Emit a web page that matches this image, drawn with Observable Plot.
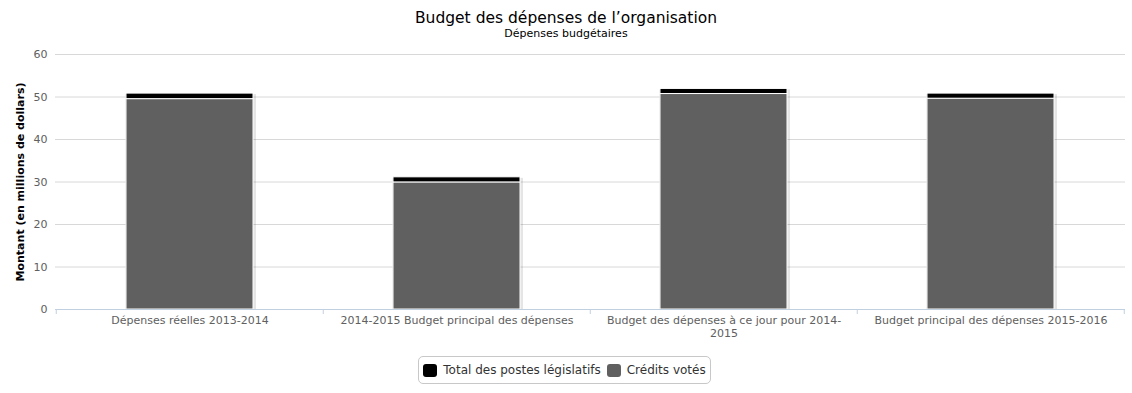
<!DOCTYPE html>
<html>
<head>
<meta charset="utf-8">
<script src="https://cdn.jsdelivr.net/npm/d3@7"></script>
<script src="https://cdn.jsdelivr.net/npm/@observablehq/plot@0.6"></script>
<style>
  html, body { margin: 0; padding: 0; background: #fff; }
  body { font-family: "DejaVu Sans", Verdana, sans-serif; }
  #wrap { position: relative; width: 1132px; height: 393px; overflow: hidden; }
  #head { position: relative; height: 44px; }
  #title { position: absolute; left: 0; width: 1132px; top: 8px; text-align: center; font-size: 15.5px; line-height: 20px; color: #000; }
  #subtitle { position: absolute; left: 0; width: 1132px; top: 27px; text-align: center; font-size: 11px; line-height: 14px; color: #000; }
  #legend { position: absolute; left: 418px; top: 356px; width: 291px; height: 26px; border: 1px solid #c8c8c8; border-radius: 5px;
            display: flex; align-items: center; justify-content: center; font-size: 12px; color: #333; box-sizing: content-box; }
  .item { display: flex; align-items: center; margin: 0 3px; }
  .sw { width: 14px; height: 13px; border-radius: 3px; margin-right: 6px; }
  svg { display: block; }
</style>
</head>
<body>
<div id="wrap">
  <div id="head">
    <div id="title"></div>
    <div id="subtitle"></div>
  </div>
  <div id="chart"></div>
  <div id="legend"></div>
</div>
<script>
const titleText = "Budget des dépenses de l’organisation";
const subtitleText = "Dépenses budgétaires";
const yLabel = "Montant (en millions de dollars)";
const categories = [
  "Dépenses réelles 2013-2014",
  "2014-2015 Budget principal des dépenses",
  "Budget des dépenses à ce jour pour 2014-2015",
  "Budget principal des dépenses 2015-2016"
];
const tickLabels = [
  "Dépenses réelles 2013-2014",
  "2014-2015 Budget principal des dépenses",
  "Budget des dépenses à ce jour pour 2014-\n2015",
  "Budget principal des dépenses 2015-2016"
];
const seriesNames = ["Total des postes législatifs", "Crédits votés"];
const seriesColors = ["#000000", "#606060"];
const creditsVotes = [49.5, 29.9, 50.7, 49.6];
const postesLegislatifs = [1.3, 1.2, 1.2, 1.2];
const yTicks = [0, 10, 20, 30, 40, 50, 60];

document.getElementById("title").textContent = titleText;
document.getElementById("subtitle").textContent = subtitleText;

const rows = [];
categories.forEach((c, i) => {
  rows.push({cat: c, series: seriesNames[1], value: creditsVotes[i]});
  rows.push({cat: c, series: seriesNames[0], value: postesLegislatifs[i]});
});
const totals = categories.map((c, i) => ({cat: c, total: creditsVotes[i] + postesLegislatifs[i]}));

const W = 1132, H = 306, mL = 55, mR = 7, mT = 10, mB = 41;
const bw = (W - mL - mR) / categories.length;
const inset = 70;

const chart = Plot.plot({
  width: W, height: H,
  marginLeft: mL, marginRight: mR, marginTop: mT, marginBottom: mB,
  style: {fontFamily: "DejaVu Sans, Verdana, sans-serif", fontSize: "11px", background: "#fff"},
  x: {domain: categories, padding: 0, label: null},
  y: {domain: [0, 60], label: null},
  color: {domain: seriesNames, range: seriesColors},
  marks: [
    Plot.gridY(yTicks, {stroke: "#d8d8d8", strokeOpacity: 1, strokeWidth: 1}),
    Plot.axisY(yTicks, {tickSize: 0, tickPadding: 8, fill: "#606060", fontSize: 11, label: null}),
    Plot.axisX({tickSize: 0, tickPadding: 5, fill: "#606060", fontSize: 11, label: null,
      tickFormat: (d) => tickLabels[categories.indexOf(d)], lineHeight: 1.2}),
    Plot.text([yLabel], {frameAnchor: "left", textAnchor: "middle", rotate: -90, dx: -35, fontWeight: "bold", fontSize: 11, fill: "#000"}),
    Plot.barY(totals, {x: "cat", y: "total", fill: "#000", fillOpacity: 0.1, insetLeft: inset - 1, insetRight: inset - 3, dy: 1}),
    Plot.barY(rows, Plot.stackY({order: [seriesNames[1], seriesNames[0]]}, {
      x: "cat", y: "value", z: "series", fill: "series",
      stroke: "#fff", strokeWidth: 1, insetLeft: inset, insetRight: inset
    })),
    Plot.ruleY([0], {stroke: "#C0D0E0", strokeWidth: 1}),
    Plot.ruleX(categories, {x: (d) => d, dx: -bw / 2, y1: 0, y2: 0, insetBottom: -5, stroke: "#C0D0E0"}),
    Plot.ruleX(categories.slice(-1), {x: (d) => d, dx: bw / 2 - 0.5, y1: 0, y2: 0, insetBottom: -5, stroke: "#C0D0E0"})
  ]
});
document.getElementById("chart").appendChild(chart);

const legend = document.getElementById("legend");
seriesNames.forEach((n, i) => {
  const it = document.createElement("div");
  it.className = "item";
  const sw = document.createElement("div");
  sw.className = "sw";
  sw.style.background = seriesColors[i];
  const tx = document.createElement("span");
  tx.textContent = n;
  it.appendChild(sw); it.appendChild(tx);
  legend.appendChild(it);
});
</script>
</body>
</html>
